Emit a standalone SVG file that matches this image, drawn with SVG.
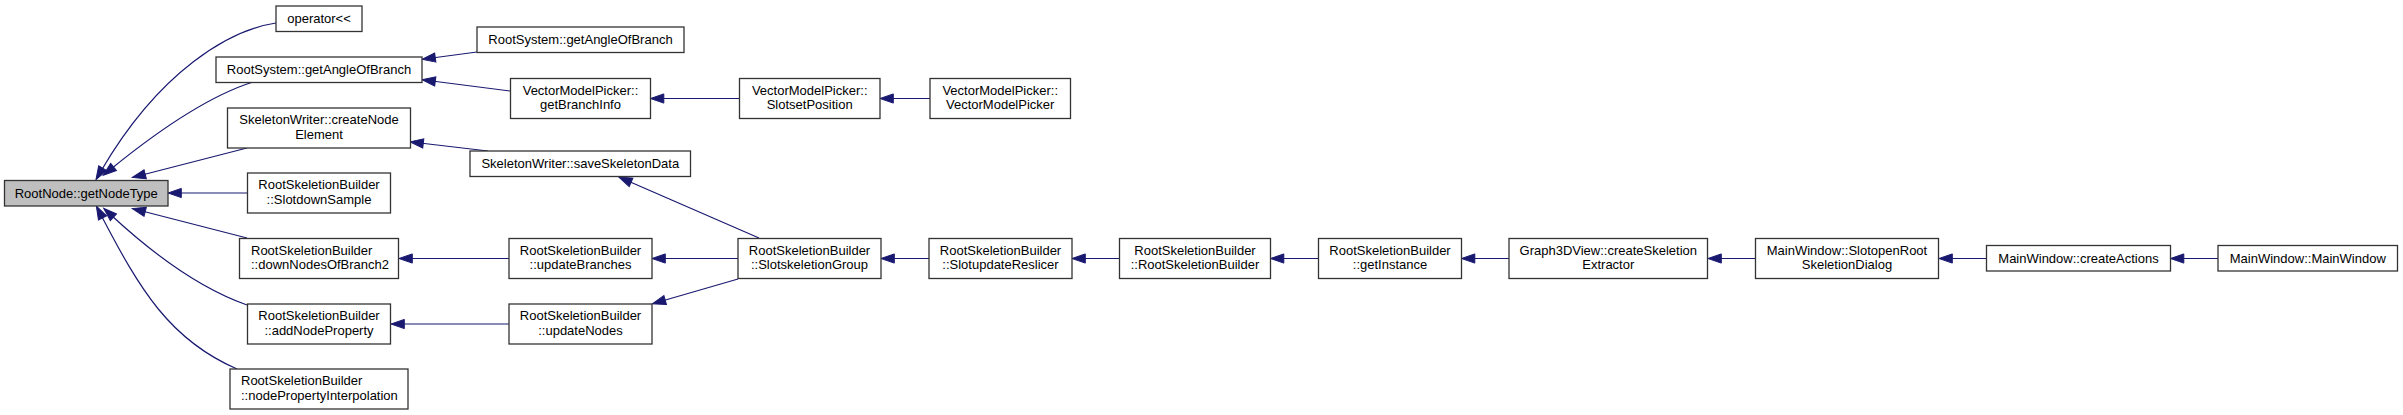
<svg xmlns="http://www.w3.org/2000/svg" width="2403" height="415" viewBox="0 0 2403 415">
<style>
.n rect{fill:#ffffff;stroke:#333333;stroke-width:1.3}
.n.root rect{fill:#bfbfbf}
.n text{font-family:"Liberation Sans",Arial,sans-serif;font-size:13px;fill:#000000;text-anchor:middle}
.n text.l{text-anchor:start}
.e path{fill:none;stroke:#191970;stroke-width:1.2;marker-end:url(#arr)}
</style>
<defs>
<marker id="arr" markerUnits="userSpaceOnUse" markerWidth="16" markerHeight="12" refX="3.3" refY="0" viewBox="0 -6 16 12" orient="auto" overflow="visible">
<path d="M0,-4.6 L13.3,0 L0,4.6 Z" fill="#191970" stroke="#191970" stroke-width="1"/>
</marker>
</defs>
<rect width="2403" height="415" fill="#ffffff"/>
<g id="edges" class="e">
<path d="M276,23 C230,30 160,70 101,171"/>
<path d="M253,82 C215,94 165,125 111,169"/>
<path d="M247,148 L142,175"/>
<path d="M247,193 L178,193"/>
<path d="M247,238 L142,211"/>
<path d="M247,305 C210,292 165,265 111,215"/>
<path d="M237,369 C170,340 140,290 101,215"/>
<path d="M477,52 L432,58"/>
<path d="M510,91 L432,81"/>
<path d="M488,151 L420,143"/>
<path d="M509,258.5 L409,258.5"/>
<path d="M509,324 L401,324"/>
<path d="M739.5,98.5 L660.5,98.5"/>
<path d="M930,98.5 L890,98.5"/>
<path d="M759,238 L628,181"/>
<path d="M738,258.5 L662,258.5"/>
<path d="M738,279 L662,301"/>
<path d="M929,258.5 L891,258.5"/>
<path d="M1119.5,258.5 L1082,258.5"/>
<path d="M1318.5,258.5 L1280.5,258.5"/>
<path d="M1509,258.5 L1471.5,258.5"/>
<path d="M1755.5,258.5 L1718,258.5"/>
<path d="M1986.5,258.5 L1949,258.5"/>
<path d="M2218,258.5 L2180.5,258.5"/>
</g>
<g id="n_getNodeType" class="n root"><rect x="4.5" y="180.5" width="163.5" height="25.5"/><text x="86.3" y="197.5">RootNode::getNodeType</text></g>
<g id="n_operator" class="n"><rect x="276" y="6" width="86" height="25.5"/><text x="319" y="23">operator&lt;&lt;</text></g>
<g id="n_getAngleOfBranch1" class="n"><rect x="216" y="57" width="206" height="25.5"/><text x="319" y="74">RootSystem::getAngleOfBranch</text></g>
<g id="n_createNodeElement" class="n"><rect x="227.5" y="108" width="183" height="40"/><text x="319" y="124">SkeletonWriter::createNode</text><text x="319" y="138.5">Element</text></g>
<g id="n_SlotdownSample" class="n"><rect x="247.5" y="173" width="143" height="40"/><text x="319" y="189">RootSkeletionBuilder</text><text x="319" y="203.5">::SlotdownSample</text></g>
<g id="n_downNodesOfBranch2" class="n"><rect x="239.5" y="238.5" width="159" height="40"/><text class="l" x="251" y="254.5">RootSkeletionBuilder</text><text class="l" x="251" y="269">::downNodesOfBranch2</text></g>
<g id="n_addNodeProperty" class="n"><rect x="247.5" y="304" width="143" height="40"/><text x="319" y="320">RootSkeletionBuilder</text><text x="319" y="334.5">::addNodeProperty</text></g>
<g id="n_nodePropertyInterpolation" class="n"><rect x="230" y="369" width="178" height="40"/><text class="l" x="241" y="385">RootSkeletionBuilder</text><text class="l" x="241" y="399.5">::nodePropertyInterpolation</text></g>
<g id="n_getAngleOfBranch2" class="n"><rect x="477" y="27" width="207" height="25.5"/><text x="580.5" y="44">RootSystem::getAngleOfBranch</text></g>
<g id="n_getBranchInfo" class="n"><rect x="510.5" y="78.5" width="140" height="40"/><text x="580.5" y="94.5">VectorModelPicker::</text><text x="580.5" y="109">getBranchInfo</text></g>
<g id="n_saveSkeletonData" class="n"><rect x="470" y="151" width="220.5" height="25.5"/><text x="580.3" y="168">SkeletonWriter::saveSkeletonData</text></g>
<g id="n_updateBranches" class="n"><rect x="509" y="238.5" width="143" height="40"/><text x="580.5" y="254.5">RootSkeletionBuilder</text><text x="580.5" y="269">::updateBranches</text></g>
<g id="n_updateNodes" class="n"><rect x="509" y="304" width="143" height="40"/><text x="580.5" y="320">RootSkeletionBuilder</text><text x="580.5" y="334.5">::updateNodes</text></g>
<g id="n_SlotsetPosition" class="n"><rect x="739.5" y="78.5" width="140.5" height="40"/><text x="809.7" y="94.5">VectorModelPicker::</text><text x="809.7" y="109">SlotsetPosition</text></g>
<g id="n_SlotskeletionGroup" class="n"><rect x="738" y="238.5" width="143" height="40"/><text x="809.5" y="254.5">RootSkeletionBuilder</text><text x="809.5" y="269">::SlotskeletionGroup</text></g>
<g id="n_VectorModelPicker" class="n"><rect x="930" y="78.5" width="140.5" height="40"/><text x="1000.2" y="94.5">VectorModelPicker::</text><text x="1000.2" y="109">VectorModelPicker</text></g>
<g id="n_SlotupdateReslicer" class="n"><rect x="929" y="238.5" width="143" height="40"/><text x="1000.5" y="254.5">RootSkeletionBuilder</text><text x="1000.5" y="269">::SlotupdateReslicer</text></g>
<g id="n_RootSkeletionBuilder" class="n"><rect x="1119.5" y="238.5" width="151" height="40"/><text x="1195" y="254.5">RootSkeletionBuilder</text><text x="1195" y="269">::RootSkeletionBuilder</text></g>
<g id="n_getInstance" class="n"><rect x="1318.5" y="238.5" width="143" height="40"/><text x="1390" y="254.5">RootSkeletionBuilder</text><text x="1390" y="269">::getInstance</text></g>
<g id="n_createSkeletionExtractor" class="n"><rect x="1509" y="238.5" width="198.5" height="40"/><text x="1608.3" y="254.5">Graph3DView::createSkeletion</text><text x="1608.3" y="269">Extractor</text></g>
<g id="n_SlotopenRootSkeletionDialog" class="n"><rect x="1755.5" y="238.5" width="183" height="40"/><text x="1847" y="254.5">MainWindow::SlotopenRoot</text><text x="1847" y="269">SkeletionDialog</text></g>
<g id="n_createActions" class="n"><rect x="1986.5" y="245.5" width="184" height="25.5"/><text x="2078.5" y="262.5">MainWindow::createActions</text></g>
<g id="n_MainWindow" class="n"><rect x="2218" y="245.5" width="179.5" height="25.5"/><text x="2307.8" y="262.5">MainWindow::MainWindow</text></g>
</svg>
